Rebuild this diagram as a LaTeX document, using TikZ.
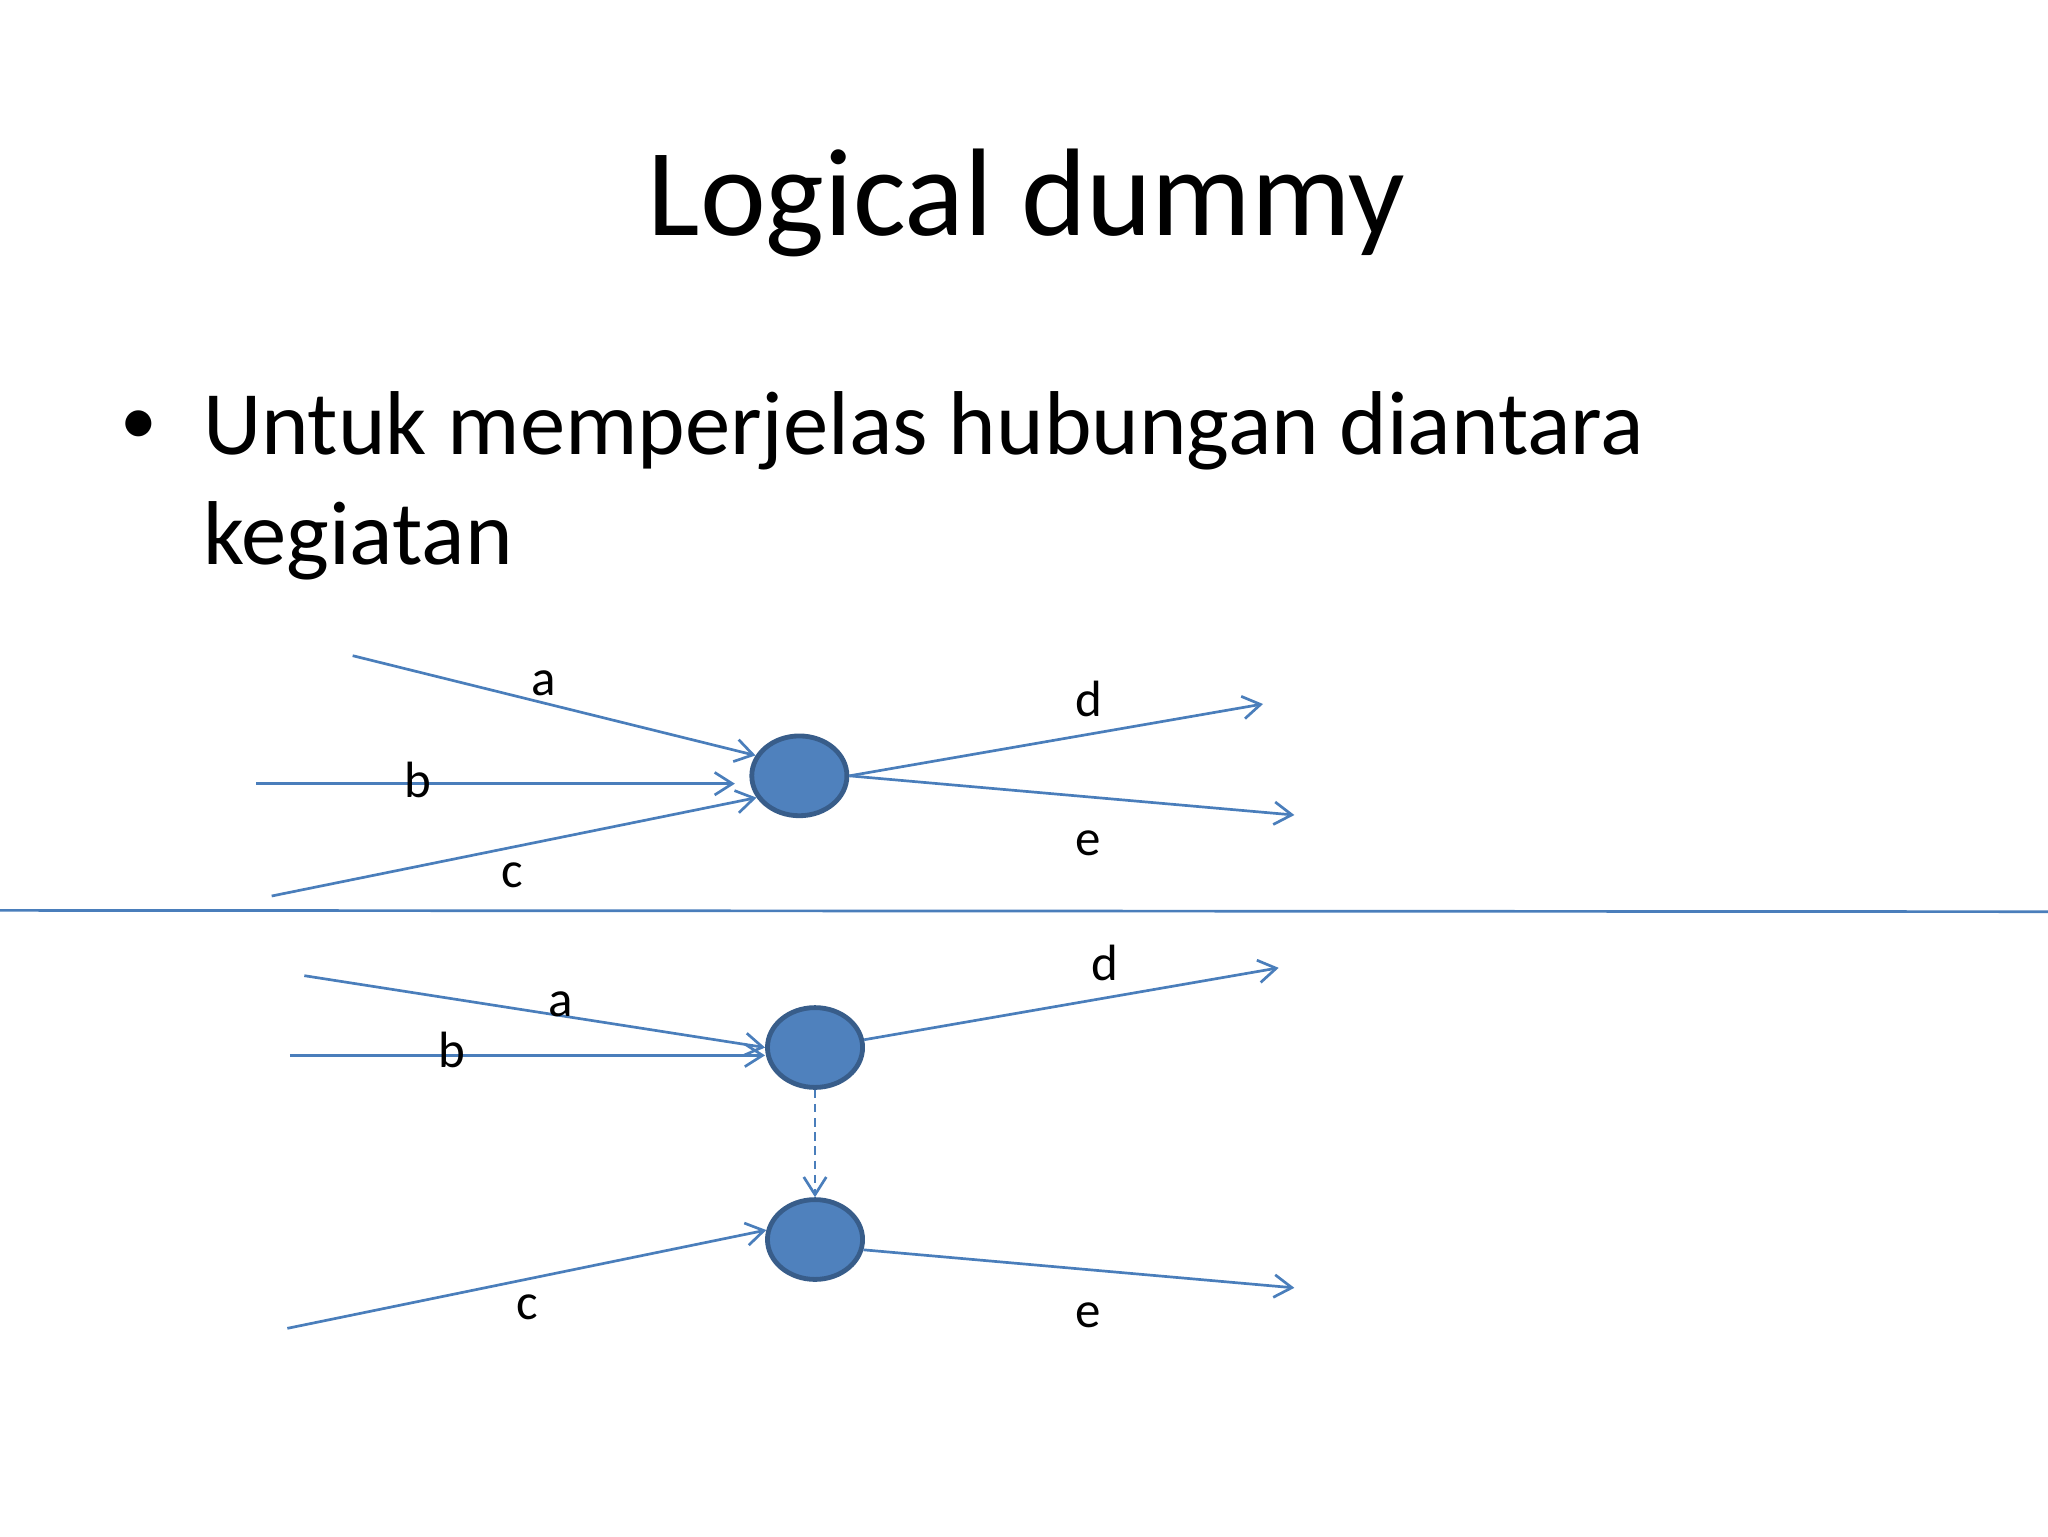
\documentclass[tikz,border=0pt]{standalone}
\usepackage{fontspec}
\setmainfont{Carlito}
\usetikzlibrary{arrows.meta,positioning,shapes.geometric}
\definecolor{linkblue}{HTML}{4A7EBB}
\definecolor{eventfill}{HTML}{4F81BD}
\definecolor{eventline}{HTML}{385D8A}

\begin{document}
\begin{tikzpicture}[x=0.0162cm,y=-0.0162cm,
    event/.style={ellipse,draw=eventline,fill=eventfill,line width=1.7pt,
      minimum width=1.18cm,minimum height=0.99cm,inner sep=0pt},
    arc/.style={draw=linkblue,line width=0.95pt,-{Straight Barb[length=2.2mm,width=2.8mm]}},
    lbl/.style={font=\fontsize{18}{22}\selectfont,inner sep=0pt},
    body/.style={font=\fontsize{32}{38}\selectfont,inner sep=0pt}]
      \useasboundingbox (0,0) rectangle (1568,1176);
      \node[font=\fontsize{44}{53}\selectfont,inner sep=0pt,anchor=base] (title) at (786,180) {Logical dummy};
      \node[body,font=\fontsize{26}{30}\selectfont,anchor=base] (bullet) at (106.5,340) {•};
      \node[body,anchor=base west] (line1) at (155,348) {Untuk memperjelas hubungan diantara};
      \node[body,anchor=base west] (line2) at (155,432) {kegiatan};
      % top: a, b, c merge into one event
      \node[event] (ev1) at (612,594) {};
      \coordinate (a1) at (270,502);
      \coordinate (b1) at (196,600);
      \coordinate (c1) at (208,686);
      \coordinate (d1) at (967,539);
      \coordinate (e1) at (991,624);
      \draw[arc] (a1) -- (ev1.155);
      \draw[arc,shorten >=0.18cm] (b1) -- (b1 -| ev1.west);
      \draw[arc] (c1) -- (ev1.207);
      \draw[arc] (ev1.east) -- (d1);
      \draw[arc] (ev1.east) -- (e1);
      \node[lbl] (la1) at (416,523) {a};
      \node[lbl] (lb1) at (320,597) {b};
      \node[lbl] (lc1) at (392,670) {c};
      \node[lbl] (ld1) at (834,535) {d};
      \node[lbl] (le1) at (833,646) {e};
      \coordinate (sepL) at (0,697);
      \coordinate (sepR) at (1568,698);
      \draw[linkblue,line width=0.95pt] (sepL) -- (sepR);
      % bottom: split with a dummy
      \node[event] (ev2) at (624,802) {};
      \node[event] (ev3) at (624,949) {};
      \coordinate (a2) at (233,747);
      \coordinate (b2) at (222,808);
      \coordinate (c2) at (220,1017);
      \coordinate (d2) at (979,741);
      \coordinate (e2) at (991,986);
      \draw[arc] (a2) -- (ev2.west);
      \draw[arc] (b2) -- (b2 -| ev2.west);
      \draw[arc] (ev2.9) -- (d2);
      \draw[arc,dash pattern=on 3pt off 2pt] (ev2.south) -- (ev3.north);
      \draw[arc] (c2) -- (ev3.169);
      \draw[arc] (ev3.-12) -- (e2);
      \node[lbl] (la2) at (429,769) {a};
      \node[lbl] (lb2) at (346,804) {b};
      \node[lbl] (lc2) at (404,1001) {c};
      \node[lbl] (ld2) at (846,737) {d};
      \node[lbl] (le2) at (833,1007) {e};
    \end{tikzpicture}
\end{document}
